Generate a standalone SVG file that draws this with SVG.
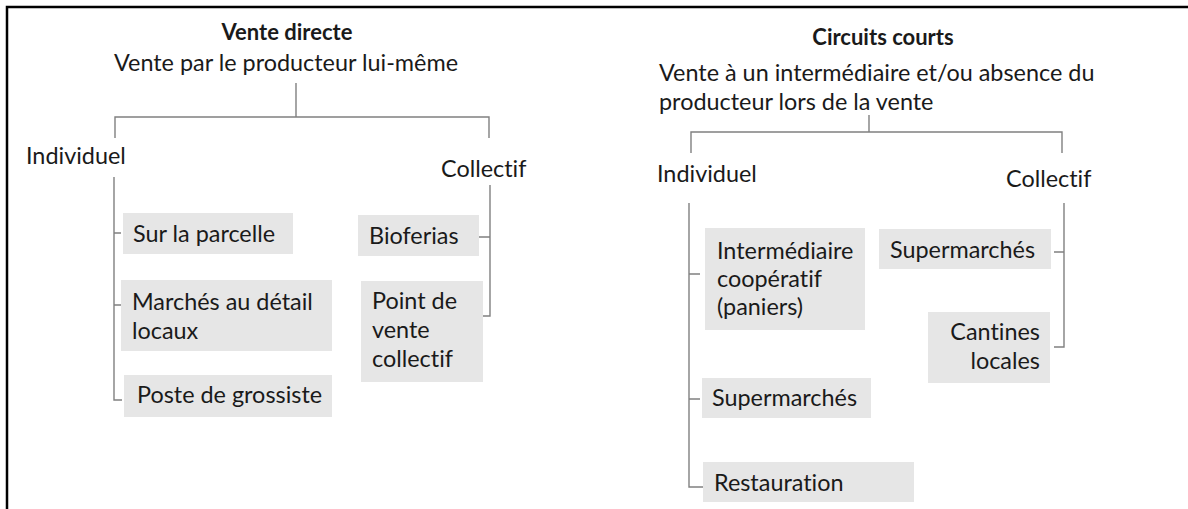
<svg xmlns="http://www.w3.org/2000/svg" width="1188" height="509" viewBox="0 0 1188 509">
<style>
text{font-family:Lato,"Liberation Sans",sans-serif;fill:#1a1a1a;font-size:23.4px;font-variant-ligatures:none;font-feature-settings:"liga" 0,"clig" 0}
.b{font-weight:bold;font-size:22px}
.box{fill:#e6e6e6}
.c{stroke:#808080;stroke-width:1.4;fill:none}
</style>
<rect width="1188" height="509" fill="#fff"/>
<path d="M7,509 V7 H1188" stroke="#000" stroke-width="2.5" fill="none"/>
<g id="connectors">
<path class="c" d="M296,83 V117 M115,138 V117 H489 V138"/>
<path class="c" d="M121,233 H114 V400 H122 M114,305 H121 M114,177 V233"/>
<path class="c" d="M490,185 V316 H482 M479,237 H490"/>
<path class="c" d="M869,115 V132 M691,153 V132 H1062 V153"/>
<path class="c" d="M689,203 V487 H703 M689,274 H700 M689,399 H700"/>
<path class="c" d="M1064,203 V347 H1054 M1054,252 H1064"/>
</g>
<g id="vente-directe">
<text class="b" x="287" y="40" text-anchor="middle">Vente directe</text>
<text x="286" y="71" text-anchor="middle">Vente par le producteur lui-même</text>
</g>
<g id="vd-individuel"><text x="26" y="164">Individuel</text></g>
<g id="vd-collectif"><text x="441" y="177">Collectif</text></g>
<g id="sur-la-parcelle"><rect class="box" x="123" y="213" width="170" height="41"/><text x="133" y="242">Sur la parcelle</text></g>
<g id="marches"><rect class="box" x="121" y="280" width="211" height="71"/><text x="132" y="310">Marchés au détail</text><text x="132" y="339">locaux</text></g>
<g id="poste"><rect class="box" x="124" y="375" width="208" height="42"/><text x="137" y="403">Poste de grossiste</text></g>
<g id="bioferias"><rect class="box" x="358" y="215" width="121" height="41"/><text x="369" y="244">Bioferias</text></g>
<g id="point-de-vente"><rect class="box" x="361" y="281" width="122" height="101"/><text x="372" y="309">Point de</text><text x="372" y="338">vente</text><text x="372" y="367">collectif</text></g>
<g id="circuits-courts">
<text class="b" x="883" y="45" text-anchor="middle">Circuits courts</text>
<text x="659" y="81">Vente à un intermédiaire et/ou absence du</text>
<text x="659" y="110">producteur lors de la vente</text>
</g>
<g id="cc-individuel"><text x="657" y="182">Individuel</text></g>
<g id="cc-collectif"><text x="1006" y="187">Collectif</text></g>
<g id="intermediaire"><rect class="box" x="705" y="228" width="160" height="102"/><text x="717" y="259">Intermédiaire</text><text x="717" y="287">coopératif</text><text x="717" y="315">(paniers)</text></g>
<g id="cc-supermarches"><rect class="box" x="879" y="229" width="172" height="40"/><text x="890" y="258">Supermarchés</text></g>
<g id="cantines"><rect class="box" x="928" y="312" width="122" height="71"/><text x="1040" y="340" text-anchor="end">Cantines</text><text x="1040" y="369" text-anchor="end">locales</text></g>
<g id="ci-supermarches"><rect class="box" x="702" y="378" width="169" height="40"/><text x="712" y="406">Supermarchés</text></g>
<g id="restauration"><rect class="box" x="703" y="462" width="211" height="40"/><text x="714" y="491">Restauration</text></g>
</svg>
